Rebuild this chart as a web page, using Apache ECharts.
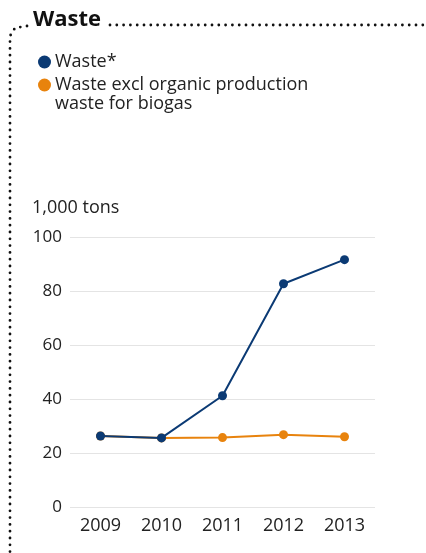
<!DOCTYPE html>
<html>
<head>
    <meta charset="utf-8"/>
    <title>Waste</title>
    <script src="https://cdn.jsdelivr.net/npm/echarts@6/dist/echarts.min.js"></script>
    <style>
        html, body { margin: 0; padding: 0; background: #fff; }
        #main { width: 426px; height: 553px; }
    </style>
</head>
<body>
<div id="main"></div>
<script type="text/javascript">
    // data
    var years = ['2009', '2010', '2011', '2012', '2013'];
    var wasteAll = [26.3, 25.6, 41.2, 82.7, 91.6];
    var wasteExcl = [26.3, 25.6, 25.7, 26.8, 26.0];
    var yTicks = [0, 20, 40, 60, 80, 100];

    var font = '"Open Sans", "Noto Sans", sans-serif';
    var blue = '#0b3a74';
    var orange = '#e8830d';

    var myChart = echarts.init(document.getElementById('main'));

    myChart.setOption({
        animation: false,
        textStyle: {fontFamily: font},
        title: {
            text: 'Waste',
            left: 29,
            top: 9,
            padding: [0, 4],
            backgroundColor: '#fff',
            textStyle: {fontFamily: font, fontSize: 22, fontWeight: 'bold', color: '#111'}
        },
        legend: {
            orient: 'vertical',
            left: 33,
            top: 47,
            itemWidth: 13,
            itemHeight: 13,
            itemGap: 3,
            icon: 'circle',
            textStyle: {fontFamily: font, fontSize: 18, color: '#222', lineHeight: 20, padding: [0, 0, 0, -1]},
            formatter: function (name) {
                // the second line of the long name is drawn below as graphic text
                return name.replace(' waste for biogas', '');
            },
            data: ['Waste*', 'Waste excl organic production waste for biogas']
        },
        graphic: [
            {
                type: 'polyline',
                silent: true,
                shape: {points: [[27, 26], [15, 28], [10, 36], [10, 553]]},
                style: {stroke: '#111', lineWidth: 2.8, lineDash: [0, 6.8], lineCap: 'round', fill: null}
            },
            {
                type: 'line',
                silent: true,
                shape: {x1: 110, y1: 25, x2: 426, y2: 25},
                style: {stroke: '#111', lineWidth: 2.8, lineDash: [0, 6.8], lineCap: 'round'}
            },
            {
                type: 'text',
                silent: true,
                left: 55,
                top: 95,
                style: {text: 'waste for biogas', font: '18px ' + font, fill: '#222'}
            }
        ],
        grid: {left: 70, right: 51, top: 237, bottom: 46},
        xAxis: {
            type: 'category',
            data: years,
            boundaryGap: true,
            axisLine: {show: false},
            axisTick: {show: false},
            axisLabel: {fontFamily: font, fontSize: 18, color: '#222', margin: 10}
        },
        yAxis: {
            type: 'value',
            min: yTicks[0],
            max: yTicks[yTicks.length - 1],
            interval: 20,
            name: '1,000 tons',
            nameLocation: 'end',
            nameGap: 20,
            nameTextStyle: {fontFamily: font, fontSize: 18, color: '#222', align: 'left', padding: [0, 0, 0, -38]},
            axisLine: {show: false},
            axisTick: {show: false},
            axisLabel: {fontFamily: font, fontSize: 17, color: '#222', margin: 8},
            splitLine: {lineStyle: {color: '#e4e4e4', width: 1}}
        },
        series: [
            {
                name: 'Waste excl organic production waste for biogas',
                type: 'line',
                data: wasteExcl,
                symbol: 'circle',
                symbolSize: 9,
                itemStyle: {color: orange},
                lineStyle: {color: orange, width: 2},
                z: 2
            },
            {
                name: 'Waste*',
                type: 'line',
                data: wasteAll,
                symbol: 'circle',
                symbolSize: 9,
                itemStyle: {color: blue},
                lineStyle: {color: blue, width: 2},
                z: 3
            }
        ]
    });
</script>
</body>
</html>
